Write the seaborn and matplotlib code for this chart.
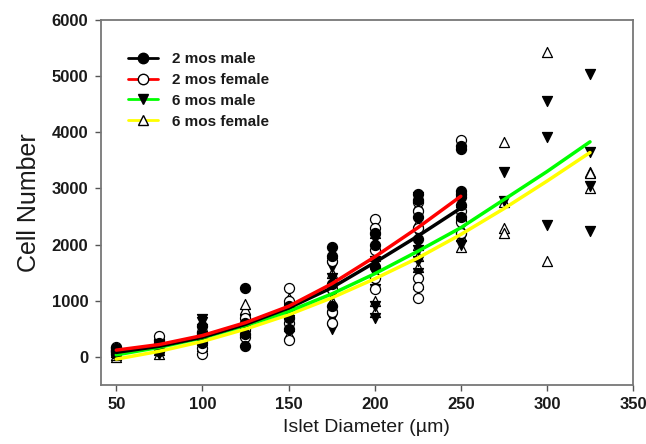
import numpy as np
import pandas as pd
import matplotlib
matplotlib.use("Agg")
import matplotlib.pyplot as plt
from matplotlib.lines import Line2D
import seaborn as sns

# ---- data ----
# scatter points: diameter -> list of cell numbers
m2_x = [50]*3 + [75]*3 + [100]*3 + [125]*4 + [150]*3 + [175]*4 + [200]*3 + [225]*4 + [250]*6
m2_y = [50, 100, 150, 100, 180, 250, 250, 400, 550, 1230, 200, 400, 600,
        500, 700, 900, 1950, 1800, 1300, 900, 1600, 2000, 2200,
        2900, 2800, 2500, 2100, 3700, 3750, 2950, 2850, 2700, 2500]

f2_x = [50]*3 + [75]*3 + [100]*4 + [125]*3 + [150]*4 + [175]*4 + [200]*5 + [225]*6 + [250]*5
f2_y = [80, 130, 180, 150, 300, 380, 50, 150, 300, 450, 350, 500, 700,
        300, 600, 1000, 1220, 1700, 1200, 800, 600, 2450, 2300, 1900, 1400, 1200,
        2750, 2600, 2300, 1400, 1250, 1050, 3870, 2900, 2600, 2400, 2200]

m6_x = [50]*2 + [75]*3 + [100]*4 + [125]*3 + [150]*3 + [175]*5 + [200]*6 + [225]*5 + [250]*4 + [275]*2 + [300]*3 + [325]*4
m6_y = [30, 80, 60, 120, 200, 350, 500, 620, 680, 300, 450, 650,
        650, 750, 850, 500, 700, 1100, 1400, 1600, 700, 900, 1200, 1500, 1700, 2100,
        2850, 2200, 1900, 1700, 1500, 2800, 2350, 2100, 2000, 3300, 2780,
        4550, 3920, 2350, 5030, 3650, 3050, 2250]

f6_x = [50]*3 + [75]*3 + [100]*4 + [125]*4 + [150]*4 + [175]*6 + [200]*7 + [225]*6 + [250]*5 + [275]*4 + [300]*2 + [325]*3
f6_y = [0, 40, 90, 60, 130, 220, 200, 300, 420, 520, 550, 700, 850, 950,
        400, 550, 800, 1050, 700, 900, 1000, 1300, 1500, 1850,
        800, 1000, 1300, 1500, 1700, 1800, 2200, 2700, 2400, 2000, 1800, 1600, 1300,
        2750, 2550, 2300, 2150, 1950, 3820, 2750, 2300, 2200, 5430, 1700,
        3300, 3280, 3000]

# fitted curves
fit2_x = [50, 75, 100, 125, 150, 175, 200, 225, 250]
fit_m2 = [80, 190, 350, 580, 870, 1230, 1680, 2150, 2650]
fit_f2 = [120, 220, 380, 610, 900, 1300, 1780, 2300, 2860]
fit6_x = [50, 75, 100, 125, 150, 175, 200, 225, 250, 275, 300, 325]
fit_m6 = [35, 170, 340, 560, 810, 1120, 1480, 1880, 2300, 2800, 3300, 3830]
fit_f6 = [-40, 100, 275, 495, 750, 1050, 1390, 1760, 2180, 2640, 3130, 3640]

labels = ["2 mos male", "2 mos female", "6 mos male", "6 mos female"]
line_colors = ["#000000", "#ff0000", "#00ff00", "#ffff00"]

# ---- figure ----
sns.set_style("white")
plt.rcParams['font.family'] = ['Liberation Sans', 'DejaVu Sans']

fig = plt.figure(figsize=(6.46, 4.44), dpi=100)
ax = fig.add_axes([0.156, 0.133, 0.824, 0.822])

ms = 52
# scatter
sns.scatterplot(x=f6_x, y=f6_y, ax=ax, marker="^", s=ms, color="white",
                edgecolor="black", linewidth=0.9, zorder=3)
sns.scatterplot(x=m6_x, y=m6_y, ax=ax, marker="v", s=ms, color="black",
                edgecolor="black", linewidth=0.9, zorder=3)
sns.scatterplot(x=f2_x, y=f2_y, ax=ax, marker="o", s=ms, color="white",
                edgecolor="black", linewidth=0.9, zorder=3)
sns.scatterplot(x=m2_x, y=m2_y, ax=ax, marker="o", s=ms, color="black",
                edgecolor="black", linewidth=0.9, zorder=3)

# fitted lines
lw = 2.5
sns.lineplot(x=fit6_x, y=fit_f6, ax=ax, color=line_colors[3], lw=lw, zorder=4)
sns.lineplot(x=fit6_x, y=fit_m6, ax=ax, color=line_colors[2], lw=lw, zorder=4)
sns.lineplot(x=fit2_x, y=fit_m2, ax=ax, color=line_colors[0], lw=lw, zorder=4)
sns.lineplot(x=fit2_x, y=fit_f2, ax=ax, color=line_colors[1], lw=lw, zorder=4)

ax.set_xlim(41, 350)
ax.set_ylim(-500, 6000)
ax.set_xticks([50, 100, 150, 200, 250, 300, 350])
ax.set_yticks([0, 1000, 2000, 3000, 4000, 5000, 6000])
ax.tick_params(axis='both', direction='out', length=4, width=1, color='#555555',
               labelsize=12, pad=5, bottom=True, left=True)
for lab in ax.get_xticklabels() + ax.get_yticklabels():
    lab.set_fontweight('bold')
    lab.set_color('#1a1a1a')
for sp in ax.spines.values():
    sp.set_color('#777777')
    sp.set_linewidth(1.3)

ax.set_xlabel("Islet Diameter (µm)", fontsize=14, labelpad=5, color='#1a1a1a')
ax.set_ylabel("Cell Number", fontsize=18, labelpad=8, color='#1a1a1a')

handles = [
    Line2D([], [], color=line_colors[0], lw=2, marker="o", markersize=7.5,
           markerfacecolor="black", markeredgecolor="black"),
    Line2D([], [], color=line_colors[1], lw=2, marker="o", markersize=7.5,
           markerfacecolor="white", markeredgecolor="black"),
    Line2D([], [], color=line_colors[2], lw=2, marker="v", markersize=7.5,
           markerfacecolor="black", markeredgecolor="black"),
    Line2D([], [], color=line_colors[3], lw=2, marker="^", markersize=7.5,
           markerfacecolor="white", markeredgecolor="black"),
]
leg = ax.legend(handles, labels, loc="upper left", bbox_to_anchor=(0.025, 0.95),
                frameon=False, fontsize=11, handlelength=2.0, handletextpad=0.9,
                labelspacing=0.45)
for t in leg.get_texts():
    t.set_fontweight('bold')
    t.set_color('#1a1a1a')

fig.savefig("out.png", dpi=100)
